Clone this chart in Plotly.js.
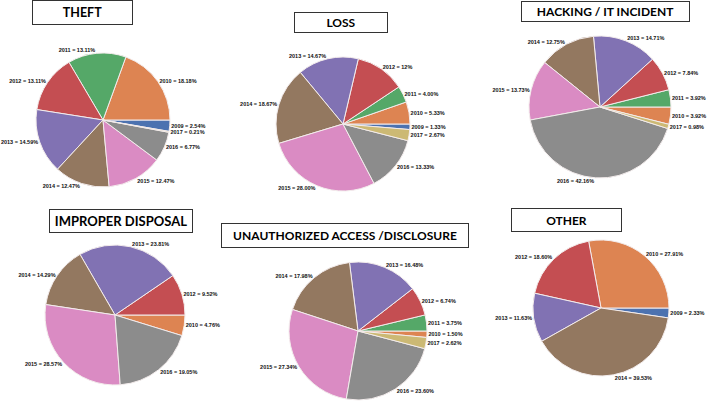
<!DOCTYPE html>
<html>
<head>
<meta charset="utf-8">
<script src="https://cdn.plot.ly/plotly-3.0.1.min.js"></script>
<style>
  html, body { margin: 0; padding: 0; background: #fff; }
  #plot { width: 718px; height: 401px; }
</style>
</head>
<body>
<div id="plot"></div>
<script>
// share of breaches per year, by breach type (values as printed on the slices)
var theftYears = ["2009", "2010", "2011", "2012", "2013", "2014", "2015", "2016", "2017"];
var theftPct = ["2.54", "18.18", "13.11", "13.11", "14.59", "12.47", "12.47", "6.77", "0.21"];

var lossYears = ["2009", "2010", "2011", "2012", "2013", "2014", "2015", "2016", "2017"];
var lossPct = ["1.33", "5.33", "4.00", "12", "14.67", "18.67", "28.00", "13.33", "2.67"];

var hackYears = ["2010", "2011", "2012", "2013", "2014", "2015", "2016", "2017"];
var hackPct = ["3.92", "3.92", "7.84", "14.71", "12.75", "13.73", "42.16", "0.98"];

var disposalYears = ["2010", "2012", "2013", "2014", "2015", "2016"];
var disposalPct = ["4.76", "9.52", "23.81", "14.29", "28.57", "19.05"];

var accessYears = ["2010", "2011", "2012", "2013", "2014", "2015", "2016", "2017"];
var accessPct = ["1.50", "3.75", "6.74", "16.48", "17.98", "27.34", "23.60", "2.62"];

var otherYears = ["2009", "2010", "2012", "2013", "2014"];
var otherPct = ["2.33", "27.91", "18.60", "11.63", "39.53"];

// seaborn "deep" colours, one per year
var yearColor = {
  "2009": "#4C72B0", "2010": "#DD8452", "2011": "#55A868", "2012": "#C44E52",
  "2013": "#8172B3", "2014": "#937860", "2015": "#DA8BC3", "2016": "#8C8C8C",
  "2017": "#CCB974"
};

var W = 718, H = 401;

function pie(years, pct, cx, cy, r) {
  return {
    type: "pie",
    labels: years,
    values: pct.map(Number),
    sort: false,
    direction: "counterclockwise",
    rotation: 90,
    marker: { colors: years.map(y => yearColor[y]), line: { color: "#f3ecec", width: 1 } },
    text: years.map((y, i) => y + " = " + pct[i] + "%"),
    textinfo: "text",
    textposition: "outside",
    textfont: { family: "Liberation Sans, Arial", size: 5.5, color: "#111", weight: "bold" },
    hoverinfo: "none",
    showlegend: false,
    domain: { x: [(cx - r) / W, (cx + r) / W], y: [1 - (cy + r) / H, 1 - (cy - r) / H] }
  };
}

function titleBox(label, cx, cy, w, h, size) {
  return {
    xref: "paper", yref: "paper", x: cx / W, y: 1 - cy / H,
    xanchor: "center", yanchor: "middle",
    text: "<b>" + label + "</b>", showarrow: false,
    width: w - 2, height: h - 2,
    bordercolor: "#333", borderwidth: 1, borderpad: 0, bgcolor: "#fff",
    font: { family: "Lato", size: size, color: "#000" }
  };
}

var traceData = [
  pie(theftYears, theftPct, 103, 120, 67),
  pie(lossYears, lossPct, 343, 124, 67),
  pie(hackYears, hackPct, 600, 107, 71),
  pie(disposalYears, disposalPct, 115, 315, 70),
  pie(accessYears, accessPct, 358, 331, 69),
  pie(otherYears, otherPct, 601, 308, 68)
];

var layout = {
  width: W, height: H,
  margin: { l: 0, r: 0, t: 0, b: 0 },
  paper_bgcolor: "#fff",
  annotations: [
    titleBox("THEFT", 82.5, 12.5, 101, 25, 12.5),
    titleBox("LOSS", 341, 22.5, 94, 21, 12),
    titleBox("HACKING / IT INCIDENT", 605.5, 11.5, 169, 21, 12),
    titleBox("IMPROPER DISPOSAL", 121, 221, 144, 24, 13),
    titleBox("UNAUTHORIZED ACCESS /DISCLOSURE", 345, 235.5, 248, 25, 12),
    titleBox("OTHER", 566.5, 220, 111, 24, 12)
  ]
};

Plotly.newPlot("plot", traceData, layout, { displayModeBar: false, staticPlot: true });
</script>
</body>
</html>
